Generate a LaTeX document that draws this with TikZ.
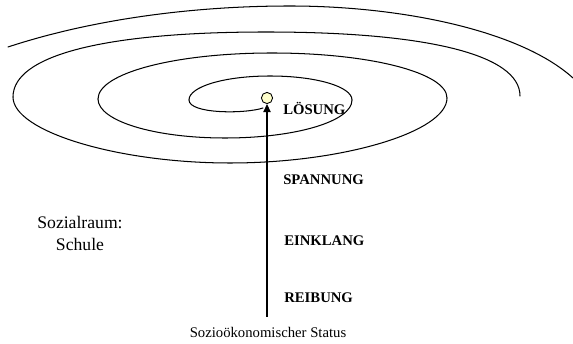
\documentclass[tikz,border=0pt]{standalone}
\usepackage{fontspec}
\setmainfont{Liberation Serif}
\usetikzlibrary{arrows.meta}
\definecolor{spotfill}{RGB}{255,255,204}
\tikzset{
  ring/.style={draw=black,line width=.7pt,line cap=round},
  spot/.style={circle,draw=black,fill=spotfill,line width=.6pt,inner sep=0pt,
               minimum size=7.6pt},
  riser/.style={-{Triangle[length=5.5pt,width=5pt]},draw=black,line width=.7pt},
  stage/.style={font=\fontsize{10}{12}\selectfont\bfseries,anchor=base west,
                inner sep=0pt},
  note/.style={font=\fontsize{10}{12}\selectfont,inner sep=0pt},
}

\begin{document}
\begin{tikzpicture}[x=0.68pt,y=-0.68pt]
  \useasboundingbox (0,0) rectangle (573,344);
  % spiral, half rings from the centre outwards
  \draw[ring] (263,108) .. controls (245,114) and (189,114) .. (189,100);
  \foreach \xa/\ya/\xm/\ym/\xb/\yb/\k in {189/100/270/76/352/100/.56,
      352/100/225/138/98/99/.56, 98/99/272/53/447/98/.56,
      447/98/230/163/13/97/.52, 13/97/266/32/520/96/.64}{
    \draw[ring] (\xa,\ya) .. controls (\xa,{\ya+\k*(\ym-\ya)}) and ({\xm-\k*(\xm-\xa)},\ym) .. (\xm,\ym)
      .. controls ({\xm+\k*(\xb-\xm)},\ym) and (\xb,{\yb+\k*(\ym-\yb)}) .. (\xb,\yb);}
  \draw[ring] (8,47) .. controls (90,20) and (190,6) .. (290,6)
    .. controls (400,6) and (520,30) .. (573,78);
  \node[spot] (spot) at (267,98) {};
  \coordinate (foot) at (267,317);
  \draw[riser] (foot) -- (spot);
  \node[stage] (loesung) at (283,115) {LÖSUNG};
  \node[stage] (spannung) at (283,185) {SPANNUNG};
  \node[stage] (einklang) at (284,246) {EINKLANG};
  \node[stage] (reibung) at (284,303) {REIBUNG};
  \node[note,font=\fontsize{12}{15}\selectfont,align=center] (raum) at (80,233)
    {Sozialraum:\\Schule};
  \node[note,anchor=base] (status) at (268,338) {Sozioökonomischer Status};
\end{tikzpicture}
\end{document}
